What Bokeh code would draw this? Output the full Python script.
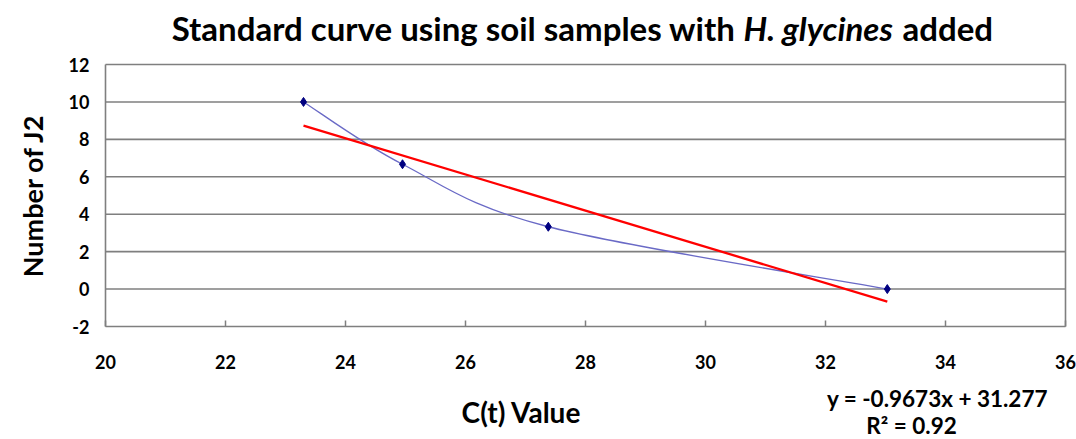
from bokeh.plotting import figure
from bokeh.models import Label, Range1d, FixedTicker, PrintfTickFormatter
from bokeh.embed import file_html
from bokeh.resources import INLINE

# ---- data ----
ct_values = [23.3, 24.95, 27.38, 33.03]
num_j2 = [10.0, 6.67, 3.33, 0.0]
slope = -0.9673
intercept = 31.277
r_squared = 0.92
x_ticks = [20, 22, 24, 26, 28, 30, 32, 34, 36]
y_ticks = [-2, 0, 2, 4, 6, 8, 10, 12]

FONT = "Lato"
W, H = 1076, 439

# plot-area edges in page pixels; the frame spans the whole canvas and the
# axes are pinned at the plot-area edges with fixed_location
FL, FT, FR, FB = 105, 64, 1065, 326
XMIN, XMAX = x_ticks[0], x_ticks[-1]
YMIN, YMAX = y_ticks[0], y_ticks[-1]
sx = (FR - FL) / (XMAX - XMIN)
sy = (FB - FT) / (YMAX - YMIN)

def px2x(px):
    return XMIN + (px - FL) / sx

def px2y(py):
    return YMAX - (py - FT) / sy

p = figure(width=W, height=H, output_backend="svg", toolbar_location=None,
           x_range=Range1d(px2x(0), px2x(W)), y_range=Range1d(px2y(H), px2y(0)),
           min_border=0, min_border_left=0, min_border_right=0,
           min_border_top=0, min_border_bottom=0)
p.outline_line_color = None
p.background_fill_color = "white"
p.border_fill_color = "white"
p.grid.visible = False

GRID_C = "#7f7f7f"

# horizontal grid lines at the y ticks, spanning the plot area
p.segment(x0=[XMIN] * (len(y_ticks) - 1), x1=[XMAX] * (len(y_ticks) - 1),
          y0=y_ticks[1:], y1=y_ticks[1:], line_color=GRID_C, line_width=1.6)
# right border of the plot area
p.segment(x0=[XMAX], x1=[XMAX], y0=[YMIN], y1=[YMAX], line_color=GRID_C, line_width=1.6)

p.xaxis.fixed_location = YMIN
p.yaxis.fixed_location = XMIN
p.xaxis.bounds = (XMIN, XMAX)
p.yaxis.bounds = (YMIN, YMAX)
p.xaxis.ticker = FixedTicker(ticks=x_ticks)
p.yaxis.ticker = FixedTicker(ticks=y_ticks)
for ax in (p.xaxis, p.yaxis):
    ax.formatter = PrintfTickFormatter(format="%d")
    ax.axis_line_color = GRID_C
    ax.axis_line_width = 1.6
    ax.major_tick_line_color = GRID_C
    ax.major_tick_line_width = 1.5
    ax.minor_tick_line_color = None
    ax.major_label_text_font = FONT
    ax.major_label_text_font_style = "bold"
    ax.major_label_text_font_size = "18px"
    ax.major_label_text_color = "black"
p.xaxis.major_tick_in = 6
p.xaxis.major_tick_out = 0
p.xaxis.major_label_standoff = 28
p.yaxis.major_tick_in = 0
p.yaxis.major_tick_out = 0
p.yaxis.major_label_standoff = 16

# smooth curve through points (Catmull-Rom -> cubic Bezier)
n = len(ct_values)
x0s, y0s, x1s, y1s, cx0s, cy0s, cx1s, cy1s = [], [], [], [], [], [], [], []
for i in range(n - 1):
    xa, ya = ct_values[i], num_j2[i]
    xb, yb = ct_values[i + 1], num_j2[i + 1]
    xp, yp = ct_values[max(i - 1, 0)], num_j2[max(i - 1, 0)]
    xn, yn = ct_values[min(i + 2, n - 1)], num_j2[min(i + 2, n - 1)]
    x0s.append(xa); y0s.append(ya); x1s.append(xb); y1s.append(yb)
    cx0s.append(xa + (xb - xp) / 6.0); cy0s.append(ya + (yb - yp) / 6.0)
    cx1s.append(xb - (xn - xa) / 6.0); cy1s.append(yb - (yn - ya) / 6.0)
p.bezier(x0=x0s, y0=y0s, x1=x1s, y1=y1s, cx0=cx0s, cy0=cy0s, cx1=cx1s, cy1=cy1s,
         line_color="#6a6ac6", line_width=1.3)

# linear trendline
tx = [min(ct_values), max(ct_values)]
ty = [slope * v + intercept for v in tx]
p.line(tx, ty, line_color="#ff0000", line_width=2.3)

# markers
p.scatter(ct_values, num_j2, marker="diamond", size=9, fill_color="#000080", line_color="#000080")

def lab(px, py, text, **kw):
    opts = dict(text_baseline="middle", text_font=FONT, text_font_style="bold",
                text_color="black", text_align="left")
    opts.update(kw)
    p.add_layout(Label(x=px2x(px), y=px2y(py), text=text, **opts))

# title (mixed italic)
lab(735, 27, "Standard curve using soil samples with", text_align="right", text_font_size="33px")
lab(743, 27, "H. glycines", text_font_style="bold italic", text_font_size="33px")
lab(902, 27, "added", text_font_size="33px")

# axis titles
lab(32, 195, "Number of J2", angle=1.5707963, text_align="center", text_font_size="27px")
lab(521, 411, "C(t) Value", text_align="center", text_font_size="28px")

# trendline equation
lab(937, 398, f"y = {slope}x + {intercept}", text_align="center", text_font_size="22.5px")
lab(911, 425, f"R\u00b2 = {r_squared}", text_align="center", text_font_size="22.5px")

open("out.html", "w").write(file_html(p, INLINE))
